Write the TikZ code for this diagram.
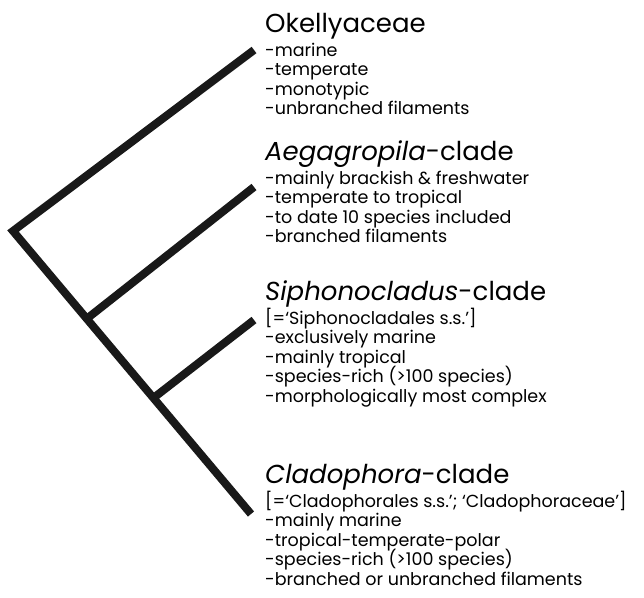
\documentclass[tikz,border=0pt]{standalone}
\usepackage{fontspec}
\setmainfont{Poppins}
\usetikzlibrary{calc}
\tikzset{
  branch/.style={line width=8pt,line join=miter,line cap=butt,black!90},
  cladehead/.style={anchor=base west,inner sep=0pt,font=\fontsize{26}{30}\selectfont},
  cladeline/.style={anchor=base west,inner sep=0pt,font=\fontsize{17.5}{20}\selectfont}
}

\begin{document}
\begin{tikzpicture}[x=1pt,y=1pt]
  \useasboundingbox (0,0) rectangle (644,-597);
  % tree
  \coordinate (root) at (13,-231);
  \coordinate (okeTip) at (254,-50);
  \coordinate (claTip) at (251,-514);
  \coordinate (aegBr) at ($(root)!0.31!(claTip)$);
  \coordinate (sipBr) at ($(root)!0.59!(claTip)$);
  \coordinate (aegTip) at (254,-187);
  \coordinate (sipTip) at (254,-320);
  \draw[branch] (okeTip) -- (root) -- (claTip);
  \draw[branch] (aegBr) -- (aegTip);
  \draw[branch] (sipBr) -- (sipTip);

  % clade labels
  \node[cladehead] (hOke) at (265,-32) {Okellyaceae};
  \node[cladehead] (hAeg) at (265,-160) {\textit{Aegagropila}-clade};
  \node[cladehead] (hSip) at (265,-300) {\textit{Siphonocladus}-clade};
  \node[cladehead] (hCla) at (265,-483) {\textit{Cladophora}-clade};

  \foreach \t [count=\i from 0] in {-marine,-temperate,-monotypic,-unbranched filaments}{
    \node[cladeline] (oke\i) at ([yshift=-24-19.5*\i]hOke.base west) {\t};
  }
  \foreach \t [count=\i from 0] in {-mainly brackish \& freshwater,-temperate to tropical,-to date 10 species included,-branched filaments}{
    \node[cladeline] (aeg\i) at ([yshift=-24-19.5*\i]hAeg.base west) {\t};
  }
  \foreach \t [count=\i from 0] in {[=`Siphonocladales s.s.'],-exclusively marine,-mainly tropical,-species-rich (>100 species),-morphologically most complex}{
    \node[cladeline] (sip\i) at ([yshift=-24-19.5*\i]hSip.base west) {\t};
  }
  \foreach \t [count=\i from 0] in {[=`Cladophorales s.s.'; `Cladophoraceae'],-mainly marine,-tropical-temperate-polar,-species-rich (>100 species),-branched or unbranched filaments}{
    \node[cladeline] (cla\i) at ([yshift=-24-19.5*\i]hCla.base west) {\t};
  }
\end{tikzpicture}
\end{document}
